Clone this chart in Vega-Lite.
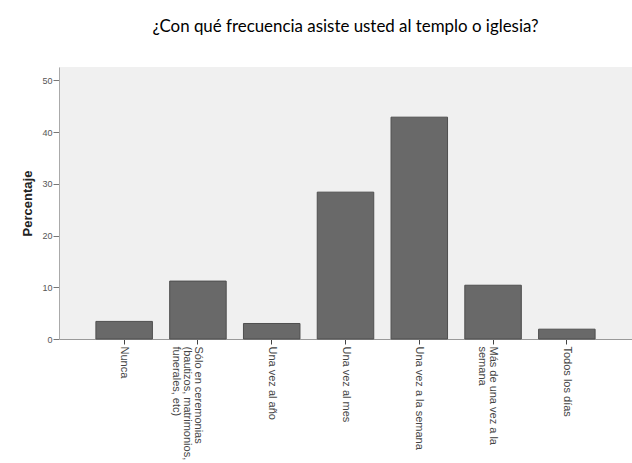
{
  "$schema": "https://vega.github.io/schema/vega-lite/v6.json",
  "width": 573,
  "height": 272,
  "autosize": {"type": "none"},
  "padding": {"left": 59, "top": 67, "right": 0, "bottom": 124},
  "background": "white",
  "title": {
    "text": "¿Con qué frecuencia asiste usted al templo o iglesia?",
    "font": "Lato",
    "fontSize": 16.9,
    "fontWeight": "normal",
    "color": "#000000",
    "anchor": "middle",
    "baseline": "alphabetic",
    "offset": 18
  },
  "data": {
    "values": [
      {"categoria": "Nunca", "porcentaje": 3.4},
      {"categoria": "Sólo en ceremonias (bautizos, matrimonios, funerales, etc)", "porcentaje": 11.2},
      {"categoria": "Una vez al año", "porcentaje": 3.0},
      {"categoria": "Una vez al mes", "porcentaje": 28.4},
      {"categoria": "Una vez a la semana", "porcentaje": 42.9},
      {"categoria": "Más de una vez a la semana", "porcentaje": 10.4},
      {"categoria": "Todos los días", "porcentaje": 1.9}
    ]
  },
  "mark": {"type": "bar", "color": "#696969", "stroke": "#4f4f4f", "strokeWidth": 1},
  "encoding": {
    "x": {
      "field": "categoria",
      "type": "nominal",
      "sort": null,
      "scale": {"paddingInner": 0.234, "paddingOuter": 0.5},
      "axis": {
        "title": null,
        "labelAngle": 90,
        "labelFont": "Liberation Sans",
        "labelFontSize": 11,
        "labelLineHeight": 11,
        "labelColor": "#444444",
        "labelPadding": 2,
        "labelOverlap": false,
        "labelLimit": 300,
        "tickColor": "#444444",
        "tickSize": 5,
        "domainColor": "#9a9a9a",
        "labelExpr": "datum.value == 'Sólo en ceremonias (bautizos, matrimonios, funerales, etc)' ? ['Sólo en ceremonias', '(bautizos, matrimonios,', 'funerales, etc)'] : datum.value == 'Más de una vez a la semana' ? ['Más de una vez a la', 'semana'] : datum.value"
      }
    },
    "y": {
      "field": "porcentaje",
      "type": "quantitative",
      "scale": {"domain": [0, 52.6], "nice": false},
      "axis": {
        "values": [0, 10, 20, 30, 40, 50],
        "grid": false,
        "title": "Percentaje",
        "titleFont": "Liberation Sans",
        "titleFontSize": 13,
        "titleFontWeight": "bold",
        "titleColor": "#222222",
        "titlePadding": 7,
        "labelFont": "Liberation Sans",
        "labelFontSize": 9,
        "labelColor": "#555555",
        "labelPadding": 1,
        "tickSize": 6,
        "tickColor": "#777777",
        "domainColor": "#aaaaaa"
      }
    }
  },
  "config": {
    "view": {"fill": "#f0f0f0", "stroke": null}
  }
}
